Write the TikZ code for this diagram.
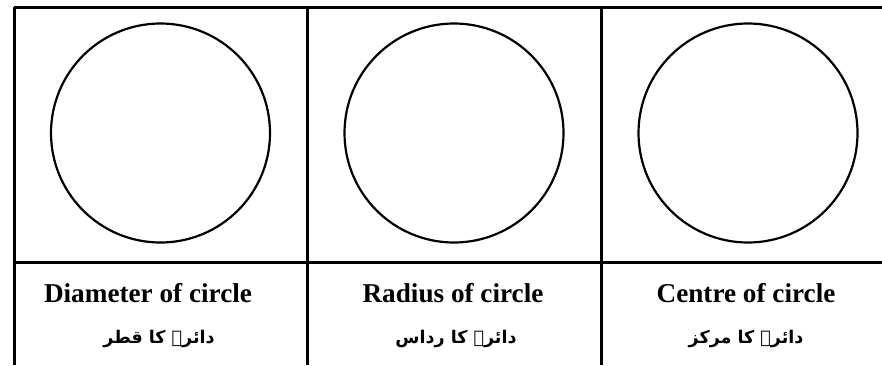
\documentclass[tikz,border=0pt]{standalone}
\usepackage{fontspec}
\setmainfont{Liberation Serif}
\newfontfamily\urdufont[Script=Arabic]{DejaVu Sans}
\TeXXeTstate=1
\begin{document}
\begin{tikzpicture}[x=1pt,y=-1pt,
  frame/.style={line width=3pt},
  ring/.style={draw,circle,line width=2.2pt,minimum size=219pt,inner sep=0pt},
  entext/.style={font=\bfseries\fontsize{27.2}{29}\selectfont,inner sep=0pt,anchor=base},
  urtext/.style={font=\urdufont\bfseries\fontsize{17.5}{20}\selectfont,inner sep=0pt}]
\useasboundingbox (0,0) rectangle (882,365);
% table frame
\coordinate (tl) at (14,7);
\coordinate (tr) at (895,7);
\coordinate (bl) at (14,365);
\coordinate (ml) at (14,262.5);
\coordinate (mr) at (895,262.5);
\coordinate (d1t) at (307,7);
\coordinate (d1b) at (307,365);
\coordinate (d2t) at (601,7);
\coordinate (d2b) at (601,365);
\draw[frame] (tl) -- (tr);
\draw[frame] (tl) -- (bl);
\draw[frame] (ml) -- (mr);
\draw[frame] (d1t) -- (d1b);
\draw[frame] (d2t) -- (d2b);
% circles
\node[ring] (c1) at (160.5,133) {};
\node[ring] (c2) at (454,133) {};
\node[ring] (c3) at (748,133) {};
% labels
\node[entext] (e1) at (148,302.5) {Diameter of circle};
\node[entext] (e2) at (453,302.5) {Radius of circle};
\node[entext] (e3) at (746,302.5) {Centre of circle};
\node[urtext] (u1) at (159,339) {\beginR دائرے کا قطر\endR};
\node[urtext] (u2) at (456,339) {\beginR دائرے کا رداس\endR};
\node[urtext] (u3) at (746,339) {\beginR دائرے کا مرکز\endR};
\end{tikzpicture}
\end{document}
